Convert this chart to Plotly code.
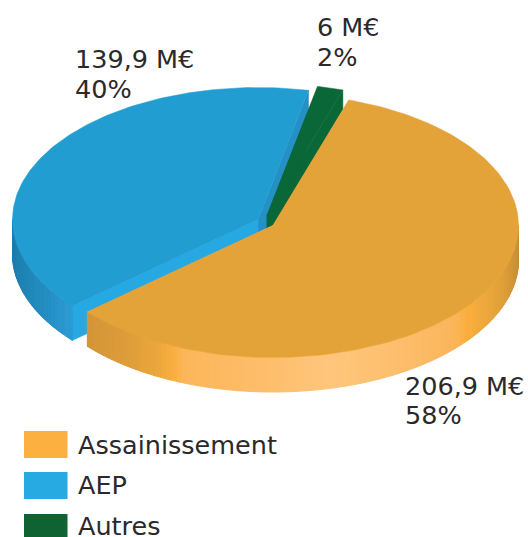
import numpy as np
import plotly.graph_objects as go

categories = ["Assainissement", "AEP", "Autres"]
values_meur = [206.9, 139.9, 6.0]
value_labels = ["206,9 M€", "139,9 M€", "6 M€"]
percent_labels = ["58%", "40%", "2%"]

W, H = 528, 537
START = 18.0
A, B, DEPTH = 245.5, 132.0, 34.5
CENTERS = [(273.0, 225.5), (258.0, 219.5), (267.0, 215.5)]
TOP = ["#e4a339", "#219dd2", "#0a6738"]
SWATCH = ["#fbb040", "#27aae1", "#0f6333"]
FACE_START = ["#e4a339", "#26a9e3", "#0a6738"]
FACE_END = ["#e4a339", "#2490c6", "#0a6738"]
# wall shading, as (pixel x, colour)
WALL = {
    0: [(86, "#d2953a"), (125, "#dd9c39"), (160, "#eda83c"), (176, "#fbb040"), (182, "#fcb65a"),
        (260, "#fdbd6a"), (330, "#fec67c"), (400, "#fcbe6c"), (455, "#fbb55a"), (466, "#fbae3e"),
        (490, "#eaa63b"), (505, "#dc9d38"), (521, "#c08c33")],
    1: [(11, "#1c7cab"), (30, "#2087b9"), (50, "#2490c5"), (70, "#2d9ad3")],
}

def hex2rgb(h):
    return np.array([int(h[i:i + 2], 16) for i in (1, 3, 5)], float)

def wall_color(stops, x):
    xs = [s[0] for s in stops]
    rgb = np.array([hex2rgb(s[1]) for s in stops])
    c = [np.interp(x, xs, rgb[:, i]) for i in range(3)]
    return "rgb(%d,%d,%d)" % tuple(round(v) for v in c)

def px(c, t):
    r = np.radians(t)
    return c[0] + A * np.sin(r), c[1] - B * np.cos(r)

fig = go.Figure()

def poly(xs, ys, color, width=0.5):
    fig.add_trace(go.Scatter(x=list(xs) + [xs[0]], y=list(ys) + [ys[0]], mode="lines", fill="toself",
                             fillcolor=color, line=dict(color=color, width=width),
                             hoverinfo="skip", showlegend=False))

total = sum(values_meur)
spans = []
a0 = START
for v in values_meur:
    a1 = a0 + v / total * 360.0
    spans.append((a0, a1))
    a0 = a1

for i in [1, 2, 0]:
    c = CENTERS[i]
    t0, t1 = spans[i]
    # radial faces
    ex, ey = px(c, t1)
    poly([c[0], ex, ex, c[0]], [c[1], ey, ey + DEPTH, c[1] + DEPTH], FACE_END[i])
    sx, sy = px(c, t0)
    poly([c[0], sx, sx, c[0]], [c[1], sy, sy + DEPTH, c[1] + DEPTH], FACE_START[i])
    # outer wall, in strips
    if i in WALL:
        lo = max(t0, 90.0)
        hi = min(t1, 270.0)
        ts = np.arange(lo, hi, 1.0).tolist() + [hi]
        for p, q in zip(ts[:-1], ts[1:]):
            x0, y0 = px(c, p)
            x1, y1 = px(c, q)
            col = wall_color(WALL[i], (x0 + x1) / 2)
            poly([x0, x1, x1, x0], [y0, y1, y1 + DEPTH, y0 + DEPTH], col, 1.0)
    # top
    ts = np.linspace(t0, t1, 160)
    xs, ys = px(c, ts)
    poly([c[0]] + xs.tolist(), [c[1]] + ys.tolist(), TOP[i])

annotations = []
FONT = dict(family="DejaVu Sans", size=25.5, color="#2b292a")
def label(x, y, text):
    annotations.append(dict(x=x, y=y, xref="x", yref="y", text=text, showarrow=False, xanchor="left", yanchor="middle",
                            align="left", font=FONT))

label(73, 59, value_labels[1])
label(73, 89, percent_labels[1])
label(315, 27, value_labels[2])
label(315, 57, percent_labels[2])
label(403, 386, value_labels[0])
label(403, 415, percent_labels[0])

shapes = []
SW_Y = [431, 472, 514]
LABEL_Y = [445, 485, 526]
for i, name in enumerate(categories):
    shapes.append(dict(type="rect", xref="x", yref="y", x0=24, x1=67.5, y0=SW_Y[i], y1=SW_Y[i] + 27,
                       fillcolor=SWATCH[i], line=dict(width=0), layer="above"))
    label(76, LABEL_Y[i], name)

# descenders of the cut-off line above the picture
for x in (262.0, 366.0):
    annotations.append(dict(x=x, y=0, xref="x", yref="y", text="p", showarrow=False, xanchor="left", yanchor="bottom",
                            yshift=-3, font=FONT))

fig.update_layout(
    width=W, height=H, margin=dict(l=0, r=0, t=0, b=0), autosize=False,
    paper_bgcolor="white", plot_bgcolor="white", showlegend=False,
    xaxis=dict(range=[0, W], visible=False, fixedrange=True),
    yaxis=dict(range=[H, 0], visible=False, fixedrange=True),
    annotations=annotations, shapes=shapes,
)
fig.write_html("out.html", config=dict(displayModeBar=False),
               post_script="document.body.style.margin='0';document.documentElement.style.overflow='hidden';")
